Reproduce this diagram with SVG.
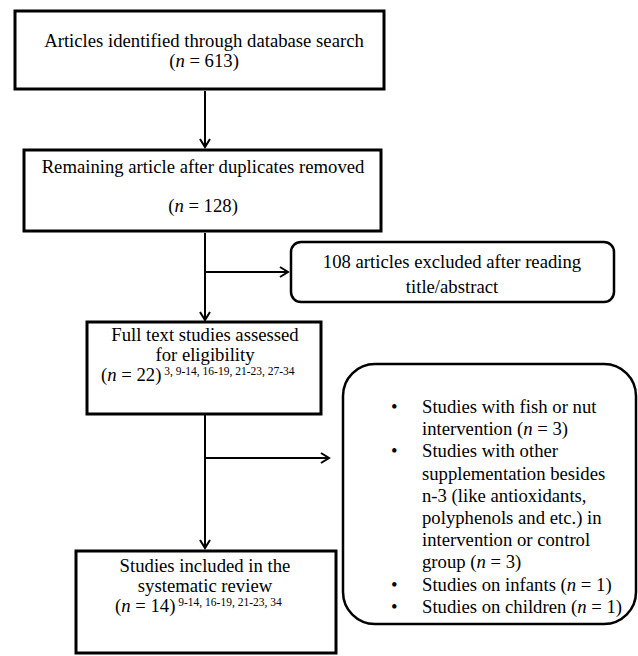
<svg xmlns="http://www.w3.org/2000/svg" width="638" height="656" viewBox="0 0 638 656">
<defs>
<style>
text{font-family:"Liberation Serif","Times New Roman",serif;fill:#000;font-size:18.7px}
.t{text-anchor:middle}
.b{font-size:19.5px}
.sup{font-size:11.5px}
.box{fill:#fff;stroke:#000;stroke-width:3}
.rbox{fill:#fff;stroke:#000;stroke-width:2.5}
.ln{fill:none;stroke:#000;stroke-width:2}
</style>
<marker id="ah" markerUnits="userSpaceOnUse" markerWidth="14" markerHeight="14" refX="9" refY="6" orient="auto">
<path d="M1,1 L9,6 L1,11" fill="none" stroke="#000" stroke-width="2"/>
</marker>
</defs>
<rect width="638" height="656" fill="#fff"/>
<g id="connectors">
<line class="ln" x1="205" y1="91" x2="205" y2="147" marker-end="url(#ah)"/>
<line class="ln" x1="205" y1="233" x2="205" y2="320" marker-end="url(#ah)"/>
<line class="ln" x1="205" y1="272" x2="288" y2="272" marker-end="url(#ah)"/>
<line class="ln" x1="205" y1="415" x2="205" y2="548" marker-end="url(#ah)"/>
<line class="ln" x1="205" y1="458" x2="329" y2="458" marker-end="url(#ah)"/>
</g>
<g id="n1">
<rect class="box" x="15" y="11" width="369" height="78"/>
<text class="t" x="204" y="47">Articles identified through database search</text>
<text class="t" x="204" y="67">(<tspan font-style="italic">n</tspan> = 613)</text>
</g>
<g id="n2">
<rect class="box" x="24" y="150" width="357" height="81"/>
<text class="t" x="203" y="173">Remaining article after duplicates removed</text>
<text class="t" x="203" y="212">(<tspan font-style="italic">n</tspan> = 128)</text>
</g>
<g id="n3">
<rect class="rbox" x="291" y="242" width="323" height="60" rx="10"/>
<text class="t" x="452" y="268">108 articles excluded after reading</text>
<text class="t" x="452" y="293">title/abstract</text>
</g>
<g id="n4">
<rect class="box" x="87" y="322" width="234" height="92"/>
<text class="t" x="205" y="341">Full text studies assessed</text>
<text class="t" x="205" y="361">for eligibility</text>
<text x="101" y="381">(<tspan font-style="italic">n</tspan> = 22)<tspan class="sup" dy="-6"> 3, 9-14, 16-19, 21-23, 27-34</tspan></text>
</g>
<g id="n5">
<rect class="rbox" x="343" y="364" width="293" height="260" rx="32"/>
<g class="b">
<text x="391" y="413">•</text>
<text x="422" y="413">Studies with fish or nut</text>
<text x="422" y="435">intervention (<tspan font-style="italic">n</tspan> = 3)</text>
<text x="391" y="457">•</text>
<text x="422" y="457">Studies with other</text>
<text x="422" y="480">supplementation besides</text>
<text x="422" y="502">n-3 (like antioxidants,</text>
<text x="422" y="524">polyphenols and etc.) in</text>
<text x="422" y="546">intervention or control</text>
<text x="422" y="568">group (<tspan font-style="italic">n</tspan> = 3)</text>
<text x="391" y="591">•</text>
<text x="422" y="591">Studies on infants (<tspan font-style="italic">n</tspan> = 1)</text>
<text x="391" y="613">•</text>
<text x="422" y="613">Studies on children (<tspan font-style="italic">n</tspan> = 1)</text>
</g>
</g>
<g id="n6">
<rect class="box" x="76" y="551" width="260" height="102"/>
<text class="t" x="205" y="572">Studies included in the</text>
<text class="t" x="205" y="592">systematic review</text>
<text x="115" y="612">(<tspan font-style="italic">n</tspan> = 14)<tspan class="sup" dy="-6"> 9-14, 16-19, 21-23, 34</tspan></text>
</g>
</svg>
